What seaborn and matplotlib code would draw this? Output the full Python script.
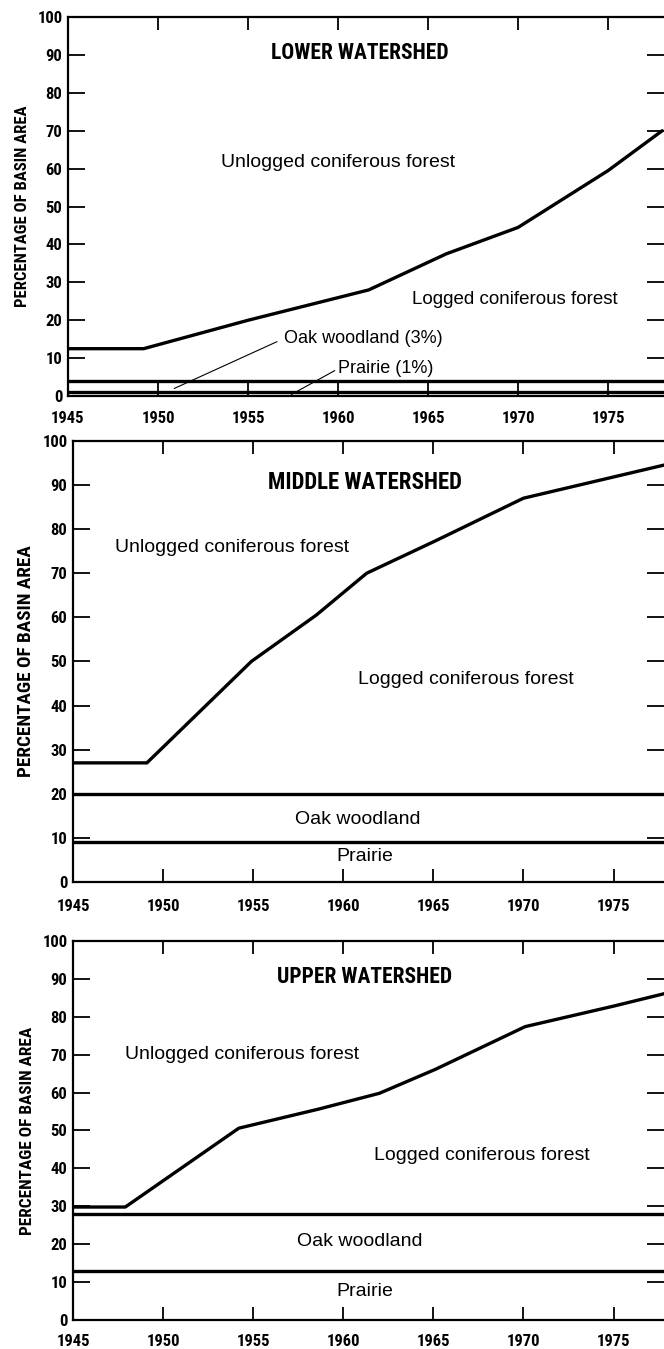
import seaborn as sns
import matplotlib.pyplot as plt
from matplotlib import font_manager

# boundary between unlogged (above) and logged (below) coniferous forest
lower_years = [1945, 1949.2, 1955, 1961.7, 1966, 1970, 1975, 1978]
lower_logged = [12.5, 12.5, 20, 28, 37.5, 44.5, 59.5, 70]
middle_years = [1945, 1949.1, 1954.9, 1958.5, 1961.3, 1965.1, 1970, 1978]
middle_logged = [27, 27, 50, 60.5, 70, 77.3, 87, 94.7]
upper_years = [1945, 1947.9, 1954.2, 1958.6, 1962, 1965.1, 1970.1, 1975, 1978]
upper_logged = [29.8, 29.8, 50.6, 55.6, 59.8, 66.1, 77.4, 82.8, 86.3]

# top of oak woodland band / top of prairie band
lower_bands = [4, 1]
middle_bands = [20, 9]
upper_bands = [28, 13]

year_ticks = [1945, 1950, 1955, 1960, 1965, 1970, 1975]
pct_ticks = [0, 10, 20, 30, 40, 50, 60, 70, 80, 90, 100]

sns.set_style('ticks')
installed = {f.name for f in font_manager.fontManager.ttflist}


def fonts(*names):
    return [n for n in names if n in installed] + ['DejaVu Sans']


REG = fonts('Liberation Sans', 'Arimo')
NARROW = fonts('Roboto Condensed', 'Liberation Sans Narrow', 'Archivo Narrow',
               'Liberation Sans')
plt.rcParams['font.family'] = REG
for k in ['text.color', 'axes.labelcolor', 'xtick.color', 'ytick.color',
          'axes.edgecolor']:
    plt.rcParams[k] = 'black'

fig = plt.figure(figsize=(6.64, 13.49), dpi=100)


def panel(rect, years, logged, bands, title, xmax, title_size=15.5, xpad=11,
          label_size=12):
    ax = fig.add_axes(rect)
    sns.lineplot(x=years, y=logged, ax=ax, color='black', lw=2.4)
    for b in bands:
        ax.axhline(b, color='black', lw=2.4)
    ax.set_xlim(1945, xmax)
    ax.set_ylim(0, 100)
    ax.set_xticks(year_ticks)
    ax.set_yticks(pct_ticks)
    ax.tick_params(direction='in', width=1.3, top=True, right=True)
    ax.tick_params(axis='x', pad=xpad, length=9.5)
    ax.tick_params(axis='y', pad=4, length=12)
    for lab in ax.get_xticklabels() + ax.get_yticklabels():
        lab.set_family(NARROW)
        lab.set_fontsize(12)
        lab.set_fontweight('bold')
    for s in ['left', 'top', 'bottom']:
        ax.spines[s].set_linewidth(1.6)
    ax.spines['right'].set_visible(False)
    ax.set_xlabel('')
    ax.set_ylabel('PERCENTAGE OF BASIN AREA', fontsize=label_size,
                  fontweight='bold', family=NARROW)
    ax.yaxis.set_label_coords(-0.064, 0.5)
    ax.text(1961.2, 90.5, title, ha='center', va='center', family=NARROW,
            fontsize=title_size, fontweight='bold')
    return ax


ax1 = panel([0.1024, 0.7064, 0.8976, 0.281], lower_years, lower_logged,
            lower_bands, 'LOWER WATERSHED', 1978.1)
ax1.text(1960, 61.7, 'Unlogged coniferous forest', ha='center', va='center',
         fontsize=14)
ax1.text(1969.8, 25.4, 'Logged coniferous forest', ha='center', va='center',
         fontsize=13.5)
ax1.annotate('Oak woodland (3%)', xy=(1950.9, 2.0), xytext=(1957, 15.2),
             ha='left', va='center', fontsize=13,
             arrowprops=dict(arrowstyle='-', lw=0.8, color='black',
                             relpos=(0, 0.5), shrinkA=3, shrinkB=0))
ax1.annotate('Prairie (1%)', xy=(1957.4, 0.4), xytext=(1960, 7.2),
             ha='left', va='center', fontsize=13,
             arrowprops=dict(arrowstyle='-', lw=0.8, color='black',
                             relpos=(0, 0.5), shrinkA=0, shrinkB=0))

ax2 = panel([0.11, 0.3462, 0.89, 0.327], middle_years, middle_logged,
            middle_bands, 'MIDDLE WATERSHED', 1977.8, title_size=16.5,
            xpad=12, label_size=13.8)
ax2.text(1953.8, 75.8, 'Unlogged coniferous forest', ha='center',
         va='center', fontsize=14)
ax2.text(1966.8, 45.8, 'Logged coniferous forest', ha='center', va='center',
         fontsize=14)
ax2.text(1960.8, 14.2, 'Oak woodland', ha='center', va='center',
         fontsize=14)
ax2.text(1961.2, 5.8, 'Prairie', ha='center', va='center', fontsize=14)

ax3 = panel([0.11, 0.0215, 0.89, 0.281], upper_years, upper_logged,
            upper_bands, 'UPPER WATERSHED', 1977.8, xpad=10, label_size=12.4)
ax3.text(1954.4, 70, 'Unlogged coniferous forest', ha='center', va='center',
         fontsize=14)
ax3.text(1967.7, 43.5, 'Logged coniferous forest', ha='center', va='center',
         fontsize=14)
ax3.text(1960.9, 20.7, 'Oak woodland', ha='center', va='center',
         fontsize=14)
ax3.text(1961.2, 7.5, 'Prairie', ha='center', va='center', fontsize=14)

fig.savefig('out.png', dpi=100)
